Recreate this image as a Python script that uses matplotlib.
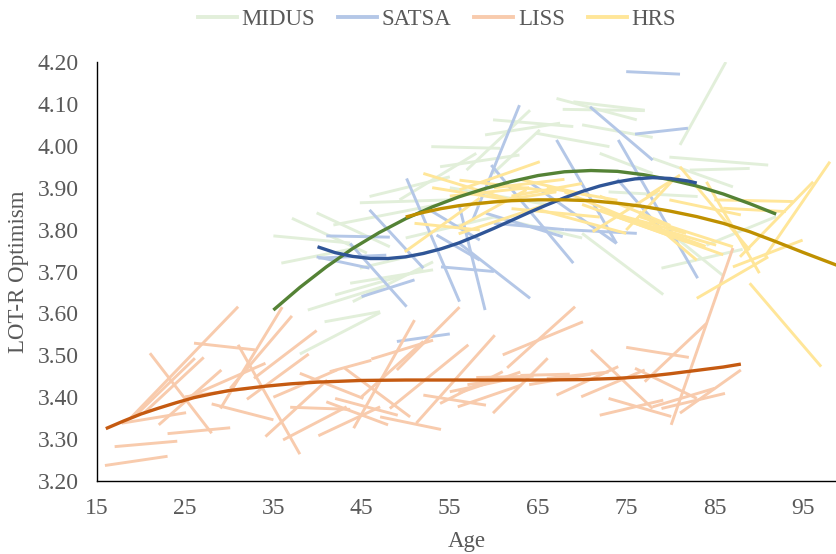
import matplotlib
matplotlib.use('Agg')
import matplotlib.pyplot as plt
import matplotlib.ticker as mticker
from matplotlib.lines import Line2D

plt.rcParams['font.family'] = ['Liberation Serif', 'DejaVu Serif']

# === thin cohort lines: (age start, value start, age end, value end)
midus_lines = [
    (35.0, 3.785, 43.7, 3.768), (37.1, 3.827, 45.6, 3.744), (39.9, 3.840, 48.2, 3.759),
    (35.9, 3.720, 44.4, 3.756), (38.9, 3.608, 47.4, 3.664), (38.0, 3.503, 47.1, 3.602),
    (40.8, 3.580, 47.1, 3.604), (42.0, 3.644, 52.0, 3.704), (44.0, 3.628, 53.1, 3.723),
    (44.8, 3.864, 55.0, 3.871), (45.9, 3.879, 55.0, 3.926), (41.8, 3.811, 53.5, 3.859),
    (44.8, 3.708, 55.0, 3.759), (43.7, 3.672, 53.1, 3.704), (67.1, 4.113, 76.2, 4.062),
    (69.0, 4.105, 77.1, 4.085), (67.8, 4.087, 77.1, 4.084), (59.9, 4.062, 69.0, 4.046),
    (59.0, 4.026, 67.5, 4.054), (52.9, 3.998, 60.7, 3.994), (53.9, 3.950, 62.9, 3.978),
    (64.8, 4.030, 73.1, 3.998), (72.0, 3.982, 78.0, 3.934), (56.9, 3.942, 64.1, 4.085),
    (59.9, 3.934, 65.2, 4.038), (49.3, 3.871, 58.0, 3.982), (70.0, 3.791, 79.2, 3.645),
    (81.1, 4.002, 86.3, 4.200), (78.0, 3.970, 87.1, 3.902), (79.9, 3.973, 91.1, 3.954),
    (82.2, 3.942, 89.0, 3.946), (73.0, 3.890, 83.1, 3.879), (79.0, 3.708, 88.2, 3.753),
    (84.1, 3.763, 92.0, 3.831), (79.5, 3.800, 86.0, 3.690), (70.0, 4.050, 78.0, 4.020),
    (50.0, 3.780, 60.0, 3.830), (55.0, 3.900, 66.0, 3.860), (60.0, 3.830, 70.0, 3.780),
]
satsa_lines = [
    (50.1, 3.922, 56.1, 3.628), (45.9, 3.847, 52.0, 3.708), (41.0, 3.785, 48.2, 3.782),
    (40.1, 3.732, 47.8, 3.739), (39.9, 3.735, 45.9, 3.708), (45.0, 3.640, 51.0, 3.680),
    (43.7, 3.767, 50.1, 3.616), (54.0, 3.711, 60.0, 3.700), (49.0, 3.533, 55.0, 3.551),
    (57.6, 3.823, 62.9, 4.097), (70.9, 4.093, 78.0, 3.966), (74.1, 4.014, 83.1, 3.684),
    (67.1, 4.014, 73.9, 3.767), (76.0, 4.028, 82.0, 4.042), (75.0, 4.177, 81.1, 4.171),
    (59.7, 3.954, 69.0, 3.720), (56.1, 3.767, 64.1, 3.636), (56.1, 3.855, 59.0, 3.608),
    (59.1, 3.839, 67.8, 3.783), (63.7, 3.918, 73.9, 3.767), (60.0, 3.815, 68.0, 3.800),
    (68.0, 3.800, 76.2, 3.791), (74.0, 3.920, 79.0, 3.800), (52.7, 3.847, 58.4, 3.775),
    (53.5, 3.787, 58.4, 3.727),
]
liss_lines = [
    (15.9, 3.237, 23.0, 3.259), (17.0, 3.282, 24.1, 3.295), (23.0, 3.313, 30.1, 3.327),
    (17.8, 3.338, 25.1, 3.363), (18.8, 3.350, 31.0, 3.616), (19.2, 3.353, 26.1, 3.493),
    (20.3, 3.362, 27.1, 3.495), (21.0, 3.505, 28.0, 3.314), (22.0, 3.334, 29.1, 3.465),
    (25.0, 3.397, 34.1, 3.481), (26.0, 3.529, 32.9, 3.513), (25.0, 3.401, 32.2, 3.421),
    (28.0, 3.384, 35.0, 3.346), (29.0, 3.373, 36.0, 3.615), (30.1, 3.421, 37.1, 3.594),
    (31.0, 3.525, 38.0, 3.264), (32.0, 3.395, 39.0, 3.503), (32.8, 3.445, 39.9, 3.559),
    (34.1, 3.306, 41.1, 3.441), (35.0, 3.400, 42.2, 3.465), (36.1, 3.298, 43.3, 3.377),
    (36.9, 3.376, 43.7, 3.371), (38.0, 3.457, 45.2, 3.397), (40.1, 3.308, 47.1, 3.377),
    (41.0, 3.389, 48.0, 3.334), (42.0, 3.397, 49.1, 3.357), (44.1, 3.326, 51.0, 3.584),
    (45.0, 3.401, 52.0, 3.533), (43.1, 3.469, 50.5, 3.353), (41.4, 3.461, 46.1, 3.488),
    (46.1, 3.491, 53.1, 3.536), (49.0, 3.465, 56.1, 3.615), (48.2, 3.373, 57.1, 3.525),
    (51.2, 3.338, 60.1, 3.548), (47.1, 3.353, 54.0, 3.323), (52.0, 3.405, 59.1, 3.381),
    (53.9, 3.385, 61.0, 3.461), (55.9, 3.377, 63.1, 3.429), (55.0, 3.413, 62.2, 3.445),
    (58.0, 3.447, 64.5, 3.450), (63.0, 3.452, 68.6, 3.455), (59.9, 3.362, 66.1, 3.493),
    (61.5, 3.470, 69.2, 3.616), (61.0, 3.501, 70.1, 3.580), (75.0, 3.519, 82.1, 3.495),
    (77.1, 3.437, 84.1, 3.576), (80.1, 3.334, 87.1, 3.756), (72.0, 3.357, 79.2, 3.393),
    (73.0, 3.397, 80.1, 3.354), (71.0, 3.513, 78.0, 3.373), (76.0, 3.469, 83.0, 3.397),
    (81.1, 3.362, 88.0, 3.465), (79.0, 3.373, 86.2, 3.409), (78.0, 3.377, 85.0, 3.421),
    (67.1, 3.405, 74.1, 3.473), (69.9, 3.401, 77.1, 3.465), (64.0, 3.430, 71.0, 3.455),
    (66.0, 3.445, 73.0, 3.460), (57.0, 3.430, 64.0, 3.450), (56.0, 3.410, 63.0, 3.460),
]
hrs_lines = [
    (52.0, 3.934, 61.8, 3.871), (49.9, 3.747, 58.4, 3.875), (51.0, 3.815, 58.4, 3.799),
    (56.1, 3.895, 65.2, 3.962), (65.2, 3.847, 75.0, 3.791), (71.2, 3.795, 78.8, 3.895),
    (81.1, 3.950, 89.0, 3.751), (84.1, 3.914, 90.1, 3.696), (79.9, 3.871, 88.0, 3.835),
    (85.0, 3.871, 93.9, 3.867), (86.0, 3.851, 93.1, 3.843), (87.9, 3.735, 96.2, 3.914),
    (90.7, 3.735, 98.1, 3.962), (83.0, 3.636, 91.1, 3.735), (87.1, 3.711, 95.0, 3.775),
    (89.0, 3.672, 97.1, 3.473), (75.0, 3.799, 80.3, 3.918), (72.0, 3.847, 81.8, 3.791),
    (77.3, 3.879, 81.1, 3.930), (53.0, 3.900, 62.0, 3.870), (55.0, 3.880, 64.0, 3.900),
    (58.0, 3.860, 67.0, 3.890), (60.0, 3.900, 68.0, 3.920), (62.0, 3.880, 70.0, 3.910),
    (63.0, 3.920, 71.0, 3.880), (66.0, 3.900, 74.0, 3.870), (68.0, 3.890, 76.0, 3.820),
    (70.0, 3.860, 78.0, 3.800), (72.0, 3.880, 80.0, 3.810), (74.0, 3.830, 82.0, 3.770),
    (76.0, 3.820, 84.0, 3.760), (78.0, 3.800, 86.0, 3.740), (62.0, 3.850, 72.0, 3.830),
    (56.0, 3.790, 66.0, 3.860), (56.1, 3.807, 63.7, 3.895), (56.1, 3.918, 67.1, 3.890),
    (76.5, 3.831, 87.1, 3.759), (76.5, 3.815, 85.2, 3.763), (76.5, 3.843, 83.0, 3.727),
]

# === fitted curves
midus_age = [35, 38, 41, 44, 47, 50, 53, 56, 59, 62, 65, 68, 71, 74, 77, 80, 83, 86, 89, 92]
midus_fit = [3.608, 3.662, 3.711, 3.755, 3.793, 3.826, 3.854, 3.878, 3.898, 3.915,
             3.929, 3.938, 3.941, 3.939, 3.931, 3.919, 3.904, 3.885, 3.862, 3.837]
satsa_age = [40, 42, 44, 46, 48, 50, 52, 54, 56, 58, 60, 62, 64, 66, 68, 70, 72, 74, 76, 78, 80, 82, 83]
satsa_fit = [3.759, 3.745, 3.736, 3.731, 3.731, 3.735, 3.743, 3.754, 3.768, 3.785, 3.803, 3.822,
             3.841, 3.859, 3.876, 3.891, 3.904, 3.914, 3.921, 3.924, 3.922, 3.916, 3.911]
liss_age = [16, 18, 20, 22, 24, 26, 28, 30, 32, 34, 37, 40, 45, 50, 55, 60, 65, 70, 74, 77, 80, 83, 86, 88]
liss_fit = [3.325, 3.343, 3.360, 3.374, 3.387, 3.399, 3.408, 3.416, 3.421, 3.426, 3.432, 3.436,
            3.440, 3.441, 3.441, 3.441, 3.441, 3.442, 3.445, 3.449, 3.456, 3.464, 3.472, 3.479]
hrs_age = [50, 52, 54, 56, 58, 60, 62, 65, 68, 71, 74, 77, 80, 83, 86, 89, 92, 95, 98, 99]
hrs_fit = [3.830, 3.841, 3.850, 3.857, 3.862, 3.866, 3.869, 3.871, 3.871, 3.869, 3.863, 3.855,
           3.844, 3.831, 3.815, 3.795, 3.771, 3.746, 3.722, 3.714]

studies = ['MIDUS', 'SATSA', 'LISS', 'HRS']
light = {'MIDUS': '#E2EFDA', 'SATSA': '#B4C7E7', 'LISS': '#F8CBAD', 'HRS': '#FFE699'}
dark = {'MIDUS': '#548235', 'SATSA': '#2F5597', 'LISS': '#C55A11', 'HRS': '#BF9000'}
seg_data = {'MIDUS': midus_lines, 'SATSA': satsa_lines, 'LISS': liss_lines, 'HRS': hrs_lines}
fit_data = {'MIDUS': (midus_age, midus_fit), 'SATSA': (satsa_age, satsa_fit),
            'LISS': (liss_age, liss_fit), 'HRS': (hrs_age, hrs_fit)}

fig = plt.figure(figsize=(8.37, 5.54), dpi=100)
ax = fig.add_axes([97 / 837, 73 / 554, 740 / 837, 419 / 554])

for s in studies:
    for a0, v0, a1, v1 in seg_data[s]:
        ax.plot([a0, a1], [v0, v1], color=light[s], linewidth=2.1, solid_capstyle='butt')

for s in studies:
    ages, vals = fit_data[s]
    ax.plot(ages, vals, color=dark[s], linewidth=2.4, solid_capstyle='butt',
            solid_joinstyle='round', zorder=5)

ax.set_xlim(15, 98.9)
ax.set_ylim(3.2, 4.2)
ax.set_xticks([15, 25, 35, 45, 55, 65, 75, 85, 95])
ax.set_yticks([3.2 + 0.1 * i for i in range(11)])
ax.yaxis.set_major_formatter(mticker.FormatStrFormatter('%.2f'))
ax.tick_params(length=0, labelsize=17, labelcolor='#595959')
ax.tick_params(axis='y', pad=13)
ax.tick_params(axis='x', pad=12)
for side in ['top', 'right']:
    ax.spines[side].set_visible(False)
for side in ['left', 'bottom']:
    ax.spines[side].set_color('black')
    ax.spines[side].set_linewidth(1.0)

ax.set_xlabel('Age', fontsize=16.5, color='#595959', labelpad=9)
ax.set_ylabel('LOT-R Optimism', fontsize=16.5, color='#595959', labelpad=6)

handles = [Line2D([0], [0], color=light[s], linewidth=2.8) for s in studies]
leg = fig.legend(handles, studies, loc='center', bbox_to_anchor=(437 / 837, 1 - 19 / 554),
                 ncol=4, frameon=False, fontsize=16.5, handlelength=1.7, handletextpad=0.2,
                 columnspacing=1.0)
for t in leg.get_texts():
    t.set_color('#595959')

fig.savefig('out.png', dpi=100)
